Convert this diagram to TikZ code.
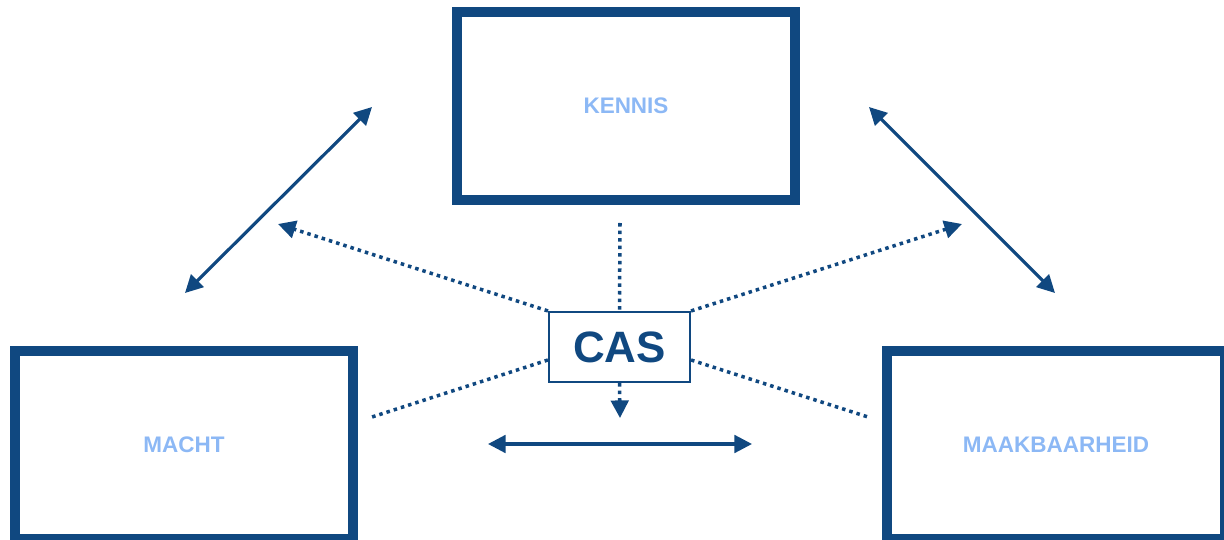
\documentclass[tikz,border=0pt]{standalone}
\usepackage{fontspec}
\setmainfont{Liberation Sans}
\usetikzlibrary{arrows.meta}
\definecolor{casblue}{RGB}{16,72,128}
\definecolor{lightlabel}{RGB}{140,184,245}
\tikzset{
  bigbox/.style={draw=casblue, line width=5.7pt, minimum width=6.78cm, minimum height=3.76cm,
    font=\bfseries\fontsize{12.8}{15}\selectfont, text=lightlabel},
  casbox/.style={draw=casblue, line width=1.2pt, minimum width=2.82cm, minimum height=1.4cm,
    font=\bfseries\fontsize{25}{28}\selectfont, text=casblue},
  link/.style={casblue, line width=1.8pt, {Triangle[length=10pt,width=10pt]}-{Triangle[length=10pt,width=10pt]}},
  dots/.style={casblue, line width=2pt, dash pattern=on 2pt off 2.3pt},
  tipend/.style={-{Triangle[length=10pt,width=10pt]}}
}
\begin{document}
\begin{tikzpicture}[x=0.02cm, y=-0.02cm]
            \useasboundingbox (0,0) rectangle (1224,540);
            % the three themes
            \node[bigbox] (kennis) at (626,106) {KENNIS};
            \node[bigbox] (macht) at (184,445) {MACHT};
            \node[bigbox] (maak) at (1056,445) {MAAKBAARHEID};
            \node[casbox] (cas) at (619.5,347) {CAS};
            % free ends
            \coordinate (top) at (620,223);
            \coordinate (down) at (620,418);
            \coordinate (ul) at (278,224);
            \coordinate (ur) at (962,224);
            \coordinate (ll) at (372,417);
            \coordinate (lr) at (868,417);
            \coordinate (lefta) at (185,293);
            \coordinate (leftb) at (372,107);
            \coordinate (righta) at (869,107);
            \coordinate (rightb) at (1055,293);
            \coordinate (bota) at (488,444);
            \coordinate (botb) at (752,444);
            % solid links
            \draw[link] (lefta) -- (leftb);
            \draw[link] (righta) -- (rightb);
            \draw[link] (bota) -- (botb);
            % dotted lines round CAS
            \draw[dots] (top) -- (cas.north);
            \draw[dots, tipend] (cas.south) -- (down);
            \draw[dots, tipend] (cas.north west) -- (ul);
            \draw[dots, tipend] (cas.north east) -- (ur);
            \draw[dots] ([yshift=-0.26cm]cas.west) -- (ll);
            \draw[dots] ([yshift=-0.26cm]cas.east) -- (lr);
        \end{tikzpicture}
\end{document}
